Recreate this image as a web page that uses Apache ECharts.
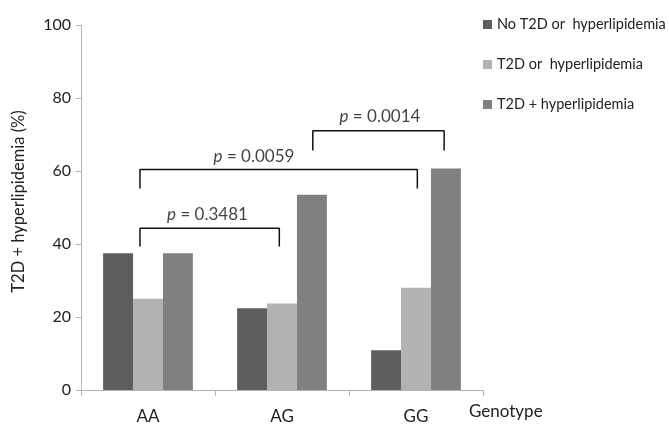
<!DOCTYPE html>
<html><head><meta charset="utf-8">
<script src="https://cdn.jsdelivr.net/npm/echarts@6/dist/echarts.min.js"></script>
<style>html,body{margin:0;padding:0;background:#fff}#c{width:669px;height:425px}</style>
</head><body><div id="c"></div>
<script>
var categories = ['AA', 'AG', 'GG'];
var seriesNames = ['No T2D or  hyperlipidemia', 'T2D or  hyperlipidemia', 'T2D + hyperlipidemia'];
var noT2D = [37.5, 22.4, 10.9];
var t2dOr = [25.0, 23.7, 28.0];
var t2dAnd = [37.5, 53.5, 60.7];
var yTicks = [0, 20, 40, 60, 80, 100];
// brackets: x positions in category units (0..3), top and bottom of bracket in %
var bracketX1 = [0.44, 0.44, 1.73];
var bracketX2 = [1.48, 2.51, 2.71];
var bracketTop = [44.3, 60.4, 71.0];
var bracketBottom = [39.3, 55.2, 65.6];
var pValues = ['0.3481', '0.0059', '0.0014'];
var pLabelX = [0.944, 1.291, 2.231];
var pLabelY = [48.1, 63.9, 74.9];

var colors = ['#5e5e5e', '#b2b2b2', '#808080'];
var font = 'Lato, "Open Sans", sans-serif';
var chart = echarts.init(document.getElementById('c'));
var series = [];
[noT2D, t2dOr, t2dAnd].forEach(function (d, i) {
  series.push({
    name: seriesNames[i], type: 'bar', data: d, barGap: '0%', barCategoryGap: '33%',
    itemStyle: { color: colors[i] }, xAxisIndex: 0
  });
});
for (var b = 0; b < bracketX1.length; b++) {
  series.push({
    type: 'line', xAxisIndex: 1, symbol: 'none', silent: true,
    lineStyle: { color: '#111', width: 1.5 },
    data: [[bracketX1[b], bracketBottom[b]], [bracketX1[b], bracketTop[b]],
           [bracketX2[b], bracketTop[b]], [bracketX2[b], bracketBottom[b]]]
  });
}
series.push({
  type: 'scatter', xAxisIndex: 1, symbolSize: 0, silent: true,
  data: pValues.map(function (p, i) { return { value: [pLabelX[i], pLabelY[i]], p: p }; }),
  label: {
    show: true, position: 'inside',
    formatter: function (o) { return '{i|p} = ' + o.data.p; },
    fontFamily: font, fontSize: 17, color: '#111',
    rich: { i: { fontStyle: 'italic', fontFamily: font, fontSize: 17, color: '#111' } }
  }
});

chart.setOption({
  animation: false,
  textStyle: { fontFamily: font },
  grid: { left: 81, right: 186, top: 25, bottom: 34 },
  legend: {
    orient: 'vertical', left: 478, top: 12, itemWidth: 9, itemHeight: 9, itemGap: 25,
    icon: 'rect', data: seriesNames,
    textStyle: { fontFamily: font, fontSize: 14.5, color: '#222' }
  },
  xAxis: [{
    type: 'category', data: categories,
    axisLine: { lineStyle: { color: '#b5b5b5', width: 1 } },
    axisTick: { show: true, length: 6, lineStyle: { color: '#b5b5b5' } },
    axisLabel: { fontSize: 17, color: '#222', margin: 18, fontFamily: font }
  }, {
    type: 'value', min: 0, max: 3, show: false
  }],
  yAxis: {
    type: 'value', min: 0, max: 100, interval: 20,
    name: 'T2D + hyperlipidemia (%)', nameLocation: 'middle', nameGap: 54,
    nameTextStyle: { fontSize: 16.5, color: '#222', fontFamily: font, padding: [0, 0, 0, 12] },
    axisLine: { show: true, lineStyle: { color: '#b5b5b5' } },
    axisTick: { show: true, length: 5, lineStyle: { color: '#b5b5b5' } },
    splitLine: { show: false },
    axisLabel: { fontSize: 16, color: '#222', margin: 10, fontFamily: font,
      formatter: function (v) { return yTicks.indexOf(v) >= 0 ? String(v) : ''; } }
  },
  graphic: [{
    type: 'text', left: 469, top: 403,
    style: { text: 'Genotype', fontSize: 17, fill: '#222', fontFamily: font }
  }],
  series: series
});
</script></body></html>
